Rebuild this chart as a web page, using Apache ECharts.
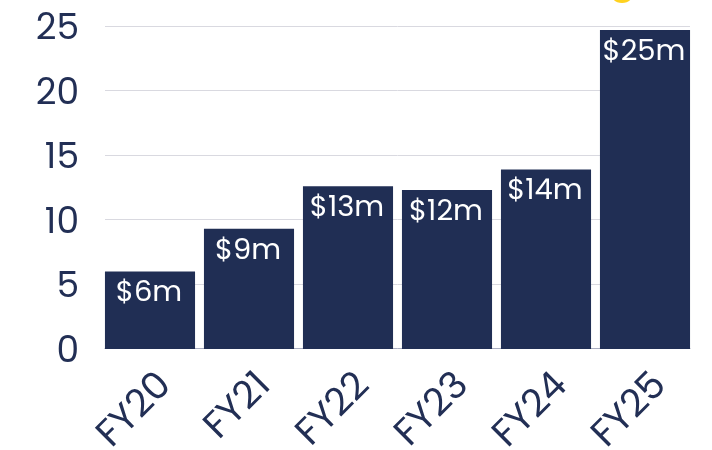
<!DOCTYPE html>
<html><head><meta charset="utf-8">
<style>html,body{margin:0;padding:0;background:#fff}#c{width:712px;height:450px}</style>
<script src="https://cdn.jsdelivr.net/npm/echarts@6/dist/echarts.min.js"></script>
</head><body><div id="c"></div>
<script>
const categories=['FY20','FY21','FY22','FY23','FY24','FY25'];
const values=[6,9.3,12.6,12.3,13.9,24.7];
const barLabels=['$6m','$9m','$13m','$12m','$14m','$25m'];
const chart=echarts.init(document.getElementById('c'),null,{renderer:'canvas'});
const font='Poppins, "Open Sans", "Noto Sans", sans-serif';
chart.setOption({
 animation:false,
 grid:[{left:105,right:22,top:26,bottom:101.5,outerBoundsMode:'none'},{left:100.5,right:17.5,top:26,bottom:101,outerBoundsMode:'none'}],
 graphic:[{type:'ellipse',shape:{cx:622,cy:-4,rx:10,ry:7},style:{fill:'#ffd21f'},silent:true}],
 xAxis:[{gridIndex:0,type:'category',data:categories,axisTick:{show:false},axisLabel:{show:false},
   axisLine:{lineStyle:{color:'#a9adc0'}}},
  {gridIndex:1,type:'category',data:categories,axisTick:{show:false},axisLine:{show:false},
  axisLabel:{rotate:45,margin:15,interval:0,formatter:v=>`{a|${v}}`,
   rich:{a:{color:'#222f55',fontSize:38,fontFamily:font,padding:[46,0,0,0]}}}}],
 yAxis:[{gridIndex:0,type:'value',min:0,max:25,interval:5,
  axisLine:{show:false},axisTick:{show:false},
  splitLine:{lineStyle:{color:'#d9d9e0'}},
  axisLabel:{margin:26,formatter:v=>`{a|${v}}`,
   rich:{a:{color:'#222f55',fontSize:36,fontFamily:font,padding:[8,0,0,0]}}}},
  {gridIndex:1,type:'value',min:0,max:25,interval:5,show:false,splitLine:{show:false}}],
 series:[{type:'bar',xAxisIndex:1,yAxisIndex:1,data:values,barCategoryGap:'9%',
  itemStyle:{color:'#202e54'},
  label:{show:true,position:'insideTop',distance:8,offset:[-1,0],color:'#fff',fontSize:29,fontFamily:font,
   formatter:p=>barLabels[p.dataIndex]}}]
});
</script></body></html>
